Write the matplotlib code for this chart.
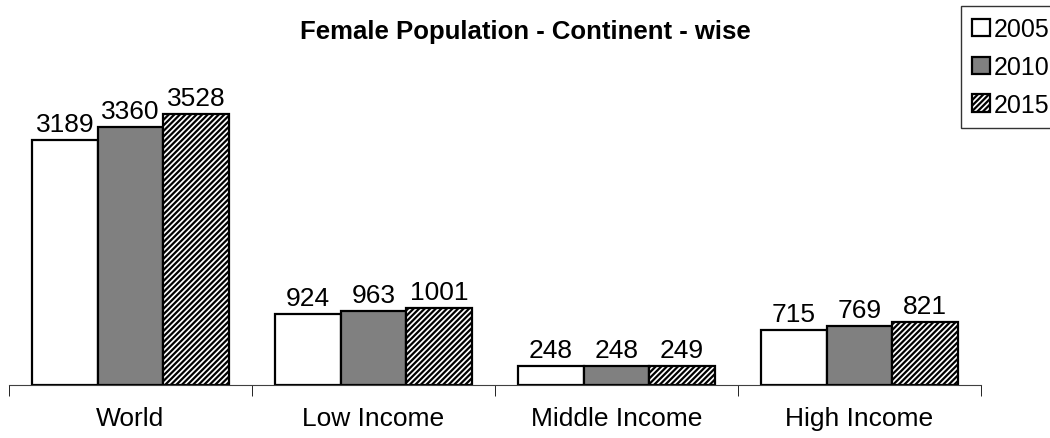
import matplotlib.pyplot as plt
import numpy as np

plt.rcParams['font.family'] = ['Liberation Sans', 'DejaVu Sans']
plt.rcParams['hatch.linewidth'] = 1.6

categories = ['World', 'Low Income', 'Middle Income', 'High Income']
years = ['2005', '2010', '2015']
pop_2005 = [3189, 924, 248, 715]
pop_2010 = [3360, 963, 248, 769]
pop_2015 = [3528, 1001, 249, 821]

fig = plt.figure(figsize=(10.5, 4.39), dpi=100)
ax = fig.add_axes([9 / 1050, 53 / 439, 972 / 1050, 346 / 439])

x = np.arange(len(categories))
w = 0.27
styles = [dict(color='white', hatch=None), dict(color='#808080', hatch=None),
          dict(color='white', hatch='//////')]
for i, (vals, st) in enumerate(zip([pop_2005, pop_2010, pop_2015], styles)):
    bars = ax.bar(x + (i - 1) * w, vals, w, color=st['color'], hatch=st['hatch'],
                  edgecolor='black', linewidth=1.6, label=years[i])
    for b, v in zip(bars, vals):
        ax.text(b.get_x() + b.get_width() / 2, v + 120, str(v), ha='center', va='baseline',
                fontsize=19)

ax.set_xlim(-0.5, len(categories) - 0.5)
ax.set_ylim(0, 4505)
ax.set_yticks([])
for s in ['top', 'right', 'left']:
    ax.spines[s].set_visible(False)
ax.spines['bottom'].set_color('#404040')
ax.set_xticks(x)
ax.set_xticklabels(categories, fontsize=19)
ax.tick_params(axis='x', length=0, pad=15)
ax.set_xticks(np.arange(len(categories) + 1) - 0.5, minor=True)
ax.tick_params(axis='x', which='minor', length=8, color='black')

fig.text(0.5, 1 - 32 / 439, 'Female Population - Continent - wise', ha='center', va='center',
         fontsize=18.5, fontweight='bold')

leg = fig.legend(loc='upper left', bbox_to_anchor=(961 / 1050, 1 - 7 / 439), fontsize=18,
                 frameon=True, fancybox=False, edgecolor='black', handlelength=0.7,
                 handleheight=0.7, handletextpad=0.15, labelspacing=0.55, borderpad=0.45,
                 borderaxespad=0)
leg.get_frame().set_linewidth(1.0)

fig.savefig('out.png', dpi=100)
